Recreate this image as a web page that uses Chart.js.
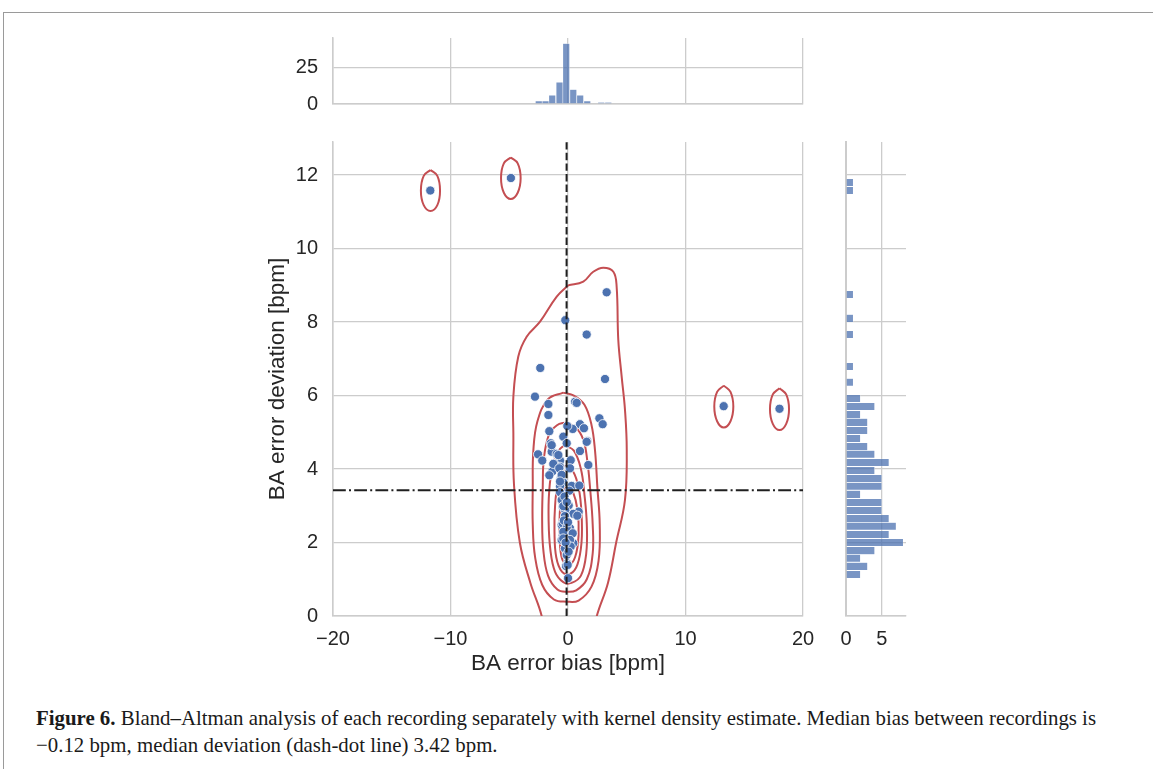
<!DOCTYPE html>
<html>
<head>
<meta charset="utf-8">
<script src="https://cdn.jsdelivr.net/npm/chart.js@4.4.1/dist/chart.umd.min.js"></script>
<style>
  body { margin: 0; background: #fff; }
  #page { position: relative; width: 1153px; height: 769px; overflow: hidden; background: #fff; }
  #frame { position: absolute; left: 3px; top: 12px; width: 1200px; height: 800px;
           border-left: 1px solid #9a9a9a; border-top: 1px solid #9a9a9a; }
  canvas { position: absolute; }
  #caption { position: absolute; left: 36px; top: 705px; font-family: "Liberation Serif", serif;
             font-size: 20.85px; line-height: 27px; color: #1a1a1a; white-space: nowrap; }
</style>
</head>
<body>
<div id="page">
  <div id="frame"></div>
  <canvas id="topHist" width="600" height="90" style="left:230px; top:30px;"></canvas>
  <canvas id="mainPlot" width="600" height="550" style="left:230px; top:130px;"></canvas>
  <canvas id="sideHist" width="100" height="550" style="left:830px; top:130px;"></canvas>
  <div id="caption"><b>Figure 6.</b> Bland–Altman analysis of each recording separately with kernel density estimate. Median bias between recordings is<br>−0.12 bpm, median deviation (dash-dot line) 3.42 bpm.</div>
</div>
<script>
const GRID = '#cccccc';
const INK = '#262626';
const BLUE = '#4C72B0';
const RED = '#C44E52';
const FONT = 'Liberation Sans';

// each recording: [bias, deviation] in bpm
const recordings = [
  [-11.72, 11.58], [-4.86, 11.92], [13.25, 5.71], [18.0, 5.64],
  [3.29, 8.81], [-0.23, 8.05], [1.59, 7.66], [-2.36, 6.75], [3.15, 6.45],
  [-2.81, 5.97], [-1.67, 5.77], [0.6, 5.83], [0.74, 5.80], [-1.67, 5.47],
  [2.67, 5.38], [2.95, 5.22], [1.02, 5.22], [1.36, 5.11], [0.4, 5.09],
  [-0.06, 5.17], [-1.59, 5.03], [-0.4, 4.88], [-0.11, 4.70], [-1.47, 4.70],
  [1.64, 4.76], [-1.39, 4.47], [-0.96, 4.41], [-2.55, 4.40], [1.02, 4.49],
  [-2.19, 4.23], [0.23, 4.24], [-0.68, 4.23], [-1.19, 4.15], [1.73, 4.11],
  [-0.68, 4.06], [0.09, 4.00], [-1.34, 3.93], [-1.59, 3.83], [-0.6, 3.76],
  [-0.4, 3.63], [-0.68, 3.53], [0.31, 3.54], [0.96, 3.55], [-0.68, 3.37],
  [0.11, 3.41], [-0.54, 3.16], [-0.45, 2.97], [0.06, 3.01], [-0.23, 2.88],
  [0.91, 2.84], [0.45, 2.78], [0.79, 2.73], [-0.23, 2.70], [-0.54, 2.48],
  [0.17, 2.39], [-0.17, 2.29], [-0.45, 2.18], [0.03, 2.22], [-0.54, 2.07],
  [0.45, 1.98], [0.17, 1.89], [-0.26, 1.84], [-0.11, 1.66], [-0.06, 1.43],
  [-0.17, 1.36], [0.0, 1.03], [-1.39, 4.65], [-0.82, 4.38], [-1.25, 4.14],
  [-0.74, 4.02], [0.17, 4.02], [-0.54, 3.84], [-0.68, 3.66], [-0.4, 2.99],
  [-0.26, 2.72], [-0.45, 2.52], [-0.11, 2.41], [-0.4, 2.29], [0.4, 2.25],
  [0.17, 2.07], [-0.4, 2.11], [0.23, 1.89], [-0.03, 1.39], [1.59, 4.74],
  [-0.3, 3.25], [-0.1, 3.1], [-0.35, 2.6], [0.0, 2.55], [-0.2, 2.0], [0.05, 1.75]
];
const medianBias = -0.12;
const medianDeviation = 3.42;

// marginal histogram of bias (top)
const biasBins = [-2.49, -1.91, -1.34, -0.72, -0.15, 0.45, 1.04, 1.64, 2.83, 3.43];
const biasCounts = [2, 2, 6, 15, 42, 10, 6, 2, 1, 1];

// marginal histogram of deviation (right)
const devBins = [1.13, 1.35, 1.57, 1.78, 2.00, 2.22, 2.44, 2.65, 2.87, 3.09, 3.31, 3.53, 3.74, 3.96,
  4.18, 4.40, 4.61, 4.83, 5.05, 5.27, 5.48, 5.70, 5.92, 6.36, 6.79, 7.66, 8.10, 8.75, 11.58, 11.80];
const devCounts = [2, 3, 2, 4, 8, 6, 7, 6, 5, 5, 2, 5, 5, 4, 6, 4, 3, 2, 3, 3, 2, 4, 2, 1, 1, 1, 1, 1, 1, 1];

// KDE contour lines, [bias, deviation]
const kdeOuter = [[0.03, 9.0], [1.3, 9.1], [2.15, 9.37], [3.0, 9.48], [3.86, 9.37], [4.14, 8.96],
  [4.28, 7.51], [4.57, 6.51], [4.85, 5.61], [5.0, 4.52], [4.85, 3.16], [4.1, 2.0], [3.4, 0.9],
  [2.45, 0.0], [2.2, -0.5], [-2.1, -0.5], [-2.24, 0.0], [-3.2, 0.9], [-4.1, 2.0], [-4.6, 3.6],
  [-4.65, 4.97], [-4.65, 5.97], [-4.23, 7.06], [-3.52, 7.6], [-2.38, 8.01], [-0.96, 8.69], [0.03, 9.0]];
const kdeLevel2 = [[-0.4, 6.08], [0.5, 6.0], [1.4, 5.75], [2.0, 5.2], [2.3, 4.5], [2.5, 3.5], [2.7, 2.5],
  [2.6, 1.5], [2.0, 0.8], [0.9, 0.42], [-0.1, 0.39], [-1.2, 0.45], [-2.2, 0.85], [-2.8, 1.6], [-3.0, 2.5],
  [-3.0, 3.5], [-2.95, 4.5], [-2.6, 5.3], [-1.7, 5.9], [-0.4, 6.08]];
const kdeLevel3 = [[-0.3, 5.26], [0.6, 5.15], [1.3, 4.8], [1.65, 4.2], [1.9, 3.4], [2.1, 2.5], [2.1, 1.7],
  [1.6, 1.0], [0.7, 0.7], [-0.1, 0.66], [-0.9, 0.72], [-1.7, 1.1], [-2.1, 1.8], [-2.2, 2.6], [-2.15, 3.5],
  [-2.05, 4.3], [-1.6, 4.95], [-0.9, 5.2], [-0.3, 5.26]];
const kdeLevel4 = [[-0.3, 4.65], [0.5, 4.5], [1.1, 4.0], [1.4, 3.3], [1.6, 2.5], [1.55, 1.7], [1.1, 1.1],
  [0.3, 0.9], [-0.4, 0.92], [-1.1, 1.2], [-1.5, 1.8], [-1.65, 2.6], [-1.6, 3.4], [-1.3, 4.1], [-0.8, 4.5],
  [-0.3, 4.65]];
const kdeLevel5 = [[-0.2, 4.1], [0.4, 3.95], [0.9, 3.5], [1.15, 2.8], [1.15, 2.0], [0.8, 1.4], [0.2, 1.15],
  [-0.5, 1.2], [-1.0, 1.6], [-1.15, 2.3], [-1.1, 3.0], [-0.85, 3.6], [-0.2, 4.1]];
const kdeLevel6 = [[-0.1, 3.6], [0.4, 3.4], [0.8, 2.9], [0.9, 2.2], [0.6, 1.6], [0.0, 1.38], [-0.5, 1.55],
  [-0.7, 2.1], [-0.7, 2.8], [-0.5, 3.3], [-0.1, 3.6]];
// small contours around the four outlying recordings
const kdeOutlierA = [[-11.7, 12.14], [-11.12, 11.98], [-10.89, 11.58], [-11.12, 11.18], [-11.7, 11.02],
  [-12.28, 11.18], [-12.52, 11.58], [-12.28, 11.98], [-11.7, 12.14]];
const kdeOutlierB = [[-4.87, 12.48], [-4.28, 12.32], [-4.03, 11.92], [-4.28, 11.52], [-4.87, 11.35],
  [-5.46, 11.52], [-5.7, 11.92], [-5.46, 12.32], [-4.87, 12.48]];
const kdeOutlierC = [[13.26, 6.27], [13.83, 6.1], [14.07, 5.7], [13.83, 5.3], [13.26, 5.13],
  [12.69, 5.3], [12.45, 5.7], [12.69, 6.1], [13.26, 6.27]];
const kdeOutlierD = [[18.0, 6.2], [18.57, 6.03], [18.81, 5.63], [18.57, 5.23], [18.0, 5.06],
  [17.43, 5.23], [17.19, 5.63], [17.43, 6.03], [18.0, 6.2]];

const xRange = [-20, 20];
const yRange = [0, 12.9];

const toPts = arr => arr.map(([x, y]) => ({ x, y }));
const tickFont = { family: FONT, size: 20 };
const titleFont = { family: FONT, size: 22.5 };
const baseOpts = {
  responsive: false,
  animation: false,
  plugins: { legend: { display: false }, tooltip: { enabled: false } }
};

// keep the plot areas aligned: fixed axis band, no label overhang padding
const fixWidth = w => s => { s.width = w; s.paddingTop = 0; s.paddingBottom = 0; };
const fixHeight = h => s => { s.height = h; s.paddingLeft = 0; s.paddingRight = 0; };

const contour = (arr) => ({
  data: toPts(arr), showLine: true, pointRadius: 0, borderColor: RED,
  borderWidth: 2, tension: 0.4, fill: false
});

// main joint plot
new Chart(document.getElementById('mainPlot'), {
  type: 'scatter',
  data: {
    datasets: [
      {
        data: [{ x: medianBias, y: yRange[0] }, { x: medianBias, y: yRange[1] }],
        showLine: true, pointRadius: 0, borderColor: '#1f1f1f', borderWidth: 2, borderDash: [7.4, 3.2]
      },
      {
        data: [{ x: xRange[0], y: medianDeviation }, { x: xRange[1], y: medianDeviation }],
        showLine: true, pointRadius: 0, borderColor: '#1f1f1f', borderWidth: 2, borderDash: [12.8, 3.2, 2, 3.2]
      },
      {
        data: toPts(recordings), pointRadius: 4.6, pointBackgroundColor: BLUE,
        pointBorderColor: '#ffffff', pointBorderWidth: 0.8
      },
      contour(kdeOutlierA), contour(kdeOutlierB), contour(kdeOutlierC), contour(kdeOutlierD),
      contour(kdeLevel6), contour(kdeLevel5), contour(kdeLevel4), contour(kdeLevel3),
      contour(kdeLevel2), contour(kdeOuter)
    ]
  },
  options: {
    ...baseOpts,
    layout: { padding: { top: 12, right: 27, left: 0, bottom: 0 } },
    scales: {
      x: {
        type: 'linear', min: xRange[0], max: xRange[1],
        ticks: { stepSize: 10, color: INK, font: tickFont, padding: 11,
                 callback: v => (v < 0 ? '\u2212' + Math.abs(v) : String(v)) },
        grid: { color: GRID, lineWidth: 1.3, drawTicks: false },
        border: { color: GRID, width: 1.5 },
        title: { display: true, text: 'BA error bias [bpm]', color: INK, font: titleFont, padding: { top: 0, bottom: 3 } },
        afterFit: fixHeight(64)
      },
      y: {
        type: 'linear', min: yRange[0], max: yRange[1],
        ticks: { stepSize: 2, color: INK, font: tickFont, padding: 15, includeBounds: false },
        grid: { color: GRID, lineWidth: 1.3, drawTicks: false },
        border: { color: GRID, width: 1.5 },
        title: { display: true, text: 'BA error deviation [bpm]', color: INK, font: titleFont, padding: { top: 34, bottom: 0 } },
        afterFit: fixWidth(103)
      }
    }
  }
});

// top marginal histogram
new Chart(document.getElementById('topHist'), {
  type: 'bar',
  data: {
    datasets: [{
      data: biasBins.map((b, i) => ({ x: b, y: biasCounts[i] })),
      backgroundColor: 'rgba(76,114,176,0.75)', borderColor: 'rgba(255,255,255,0.6)', borderWidth: 0.5,
      barThickness: 6.6
    }]
  },
  options: {
    ...baseOpts,
    layout: { padding: { top: 8, right: 27, left: 0, bottom: 0 } },
    scales: {
      x: {
        type: 'linear', min: xRange[0], max: xRange[1], offset: false,
        ticks: { stepSize: 10, display: false },
        grid: { color: GRID, lineWidth: 1.3, drawTicks: false, offset: false },
        border: { color: GRID, width: 1.5 },
        afterFit: fixHeight(16)
      },
      y: {
        type: 'linear', min: 0, max: 45.8,
        ticks: { stepSize: 25, color: INK, font: tickFont, padding: 15, includeBounds: false },
        grid: { color: GRID, lineWidth: 1.3, drawTicks: false },
        border: { color: GRID, width: 1.5 },
        afterFit: fixWidth(103)
      }
    }
  }
});

// right marginal histogram
new Chart(document.getElementById('sideHist'), {
  type: 'bar',
  data: {
    datasets: [{
      data: devBins.map((b, i) => ({ y: b, x: devCounts[i] })),
      backgroundColor: 'rgba(76,114,176,0.75)', borderColor: 'rgba(255,255,255,0.6)', borderWidth: 0.5,
      barThickness: 7.4
    }]
  },
  options: {
    ...baseOpts,
    indexAxis: 'y',
    layout: { padding: { top: 12, right: 24, left: 0, bottom: 0 } },
    scales: {
      x: {
        type: 'linear', min: 0, max: 8.4,
        ticks: { stepSize: 5, color: INK, font: tickFont, padding: 11, includeBounds: false },
        grid: { color: GRID, lineWidth: 1.3, drawTicks: false },
        border: { color: GRID, width: 1.5 },
        afterFit: fixHeight(64)
      },
      y: {
        type: 'linear', min: yRange[0], max: yRange[1], offset: false,
        ticks: { stepSize: 2, display: false, includeBounds: false },
        grid: { color: GRID, lineWidth: 1.3, drawTicks: false, offset: false },
        border: { color: GRID, width: 2 },
        afterFit: fixWidth(16)
      }
    }
  }
});
</script>
</body>
</html>
